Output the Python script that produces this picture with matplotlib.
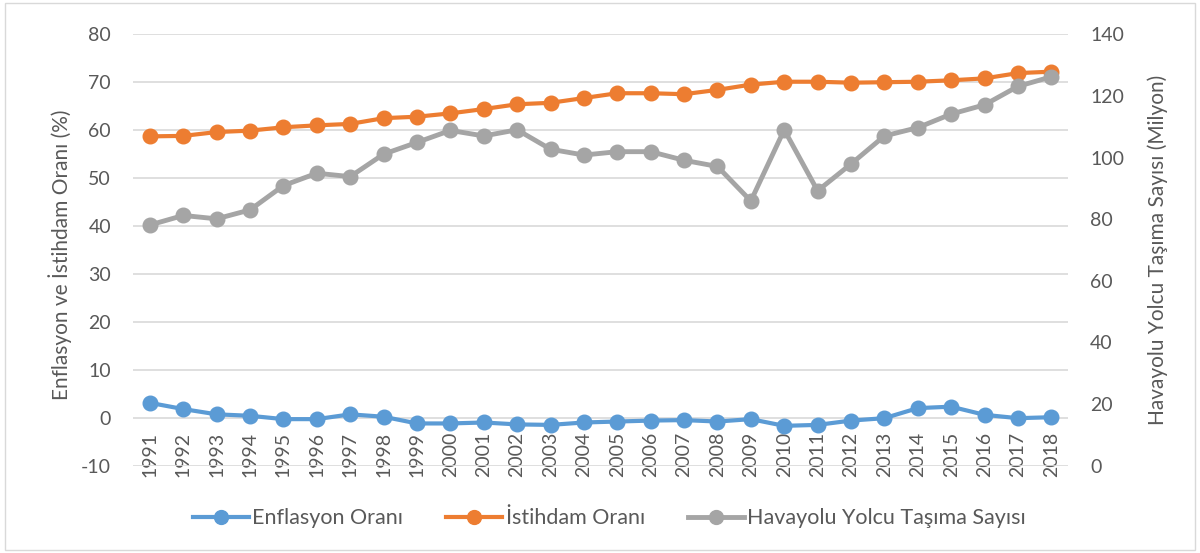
import matplotlib.pyplot as plt
from matplotlib.patches import Rectangle

plt.rcParams['font.family'] = ['Lato', 'DejaVu Sans']
plt.rcParams['axes.unicode_minus'] = False

years = list(range(1991, 2019))
enflasyon = [3.1, 1.8, 0.7, 0.4, -0.3, -0.3, 0.7, 0.2, -1.2, -1.2, -1.0, -1.4, -1.5, -1.0,
             -0.8, -0.6, -0.5, -0.8, -0.3, -1.7, -1.5, -0.6, -0.1, 2.0, 2.3, 0.6, -0.1, 0.1]
istihdam = [58.7, 58.8, 59.6, 59.9, 60.6, 61.0, 61.3, 62.5, 62.8, 63.5, 64.4, 65.4, 65.7, 66.7,
            67.7, 67.7, 67.5, 68.4, 69.5, 70.1, 70.1, 69.9, 70.0, 70.1, 70.4, 70.8, 71.9, 72.2]
havayolu = [78.1, 81.2, 80.1, 83.0, 90.9, 94.9, 93.8, 101.1, 104.9, 108.8, 107.0, 109.0, 102.7, 100.8,
            101.9, 101.9, 99.1, 97.1, 85.9, 109.0, 89.2, 97.9, 107.0, 109.7, 114.1, 117.1, 123.1, 126.2]

text_c = '#595959'
blue, orange, gray = '#5b9bd5', '#ed7d31', '#a5a5a5'
tick_fs = 14

fig = plt.figure(figsize=(12, 5.53), dpi=100)
fig.patches.append(Rectangle((0.004, 0.006), 0.992, 0.988, transform=fig.transFigure,
                             fill=False, edgecolor='#d9d9d9', linewidth=1))
ax = fig.add_axes([0.111, 0.158, 0.779, 0.78])
x = list(range(len(years)))

l1, = ax.plot(x, enflasyon, color=blue, lw=3, marker='o', ms=10.5, label='Enflasyon Oranı')
l2, = ax.plot(x, istihdam, color=orange, lw=3, marker='o', ms=10.5, label='İstihdam Oranı')
ax.set_ylim(-10, 80)
ax.set_yticks(range(-10, 81, 10))
ax.set_xlim(-0.5, len(years) - 0.5)
ax.grid(axis='y', color='#d9d9d9', lw=1.2)
ax.set_axisbelow(True)
for s in ax.spines.values():
    s.set_visible(False)
ax.spines['bottom'].set_position(('data', 0))
ax.set_xticks(x)
ax.set_xticklabels([str(y) for y in years], rotation=90)
ax.tick_params(axis='x', length=0, pad=10, labelsize=tick_fs, colors=text_c)
ax.tick_params(axis='y', length=0, pad=16, labelsize=tick_fs, colors=text_c)
ax.set_ylabel('Enflasyon ve İstihdam Oranı (%)', fontsize=15, color=text_c, va='center')
ax.yaxis.set_label_coords(-0.078, 0.49)

ax2 = ax.twinx()
l3, = ax2.plot(x, havayolu, color=gray, lw=3.5, marker='o', ms=10.5, label='Havayolu Yolcu Taşıma Sayısı')
ax2.set_ylim(0, 140)
ax2.set_yticks(range(0, 141, 20))
for s in ax2.spines.values():
    s.set_visible(False)
ax2.tick_params(axis='y', length=0, pad=16, labelsize=tick_fs, colors=text_c)
ax2.set_ylabel('Havayolu Yolcu Taşıma Sayısı (Milyon)', fontsize=15, color=text_c, va='center')
ax2.yaxis.set_label_coords(1.096, 0.5)

fig.legend(handles=[l1, l2, l3], loc='center', bbox_to_anchor=(0.508, 0.063), ncol=3,
           frameon=False, fontsize=15.5, labelcolor=text_c, handlelength=2.6,
           handletextpad=0.15, columnspacing=2.0, markerscale=0.95)

fig.savefig('out.png', dpi=100)
